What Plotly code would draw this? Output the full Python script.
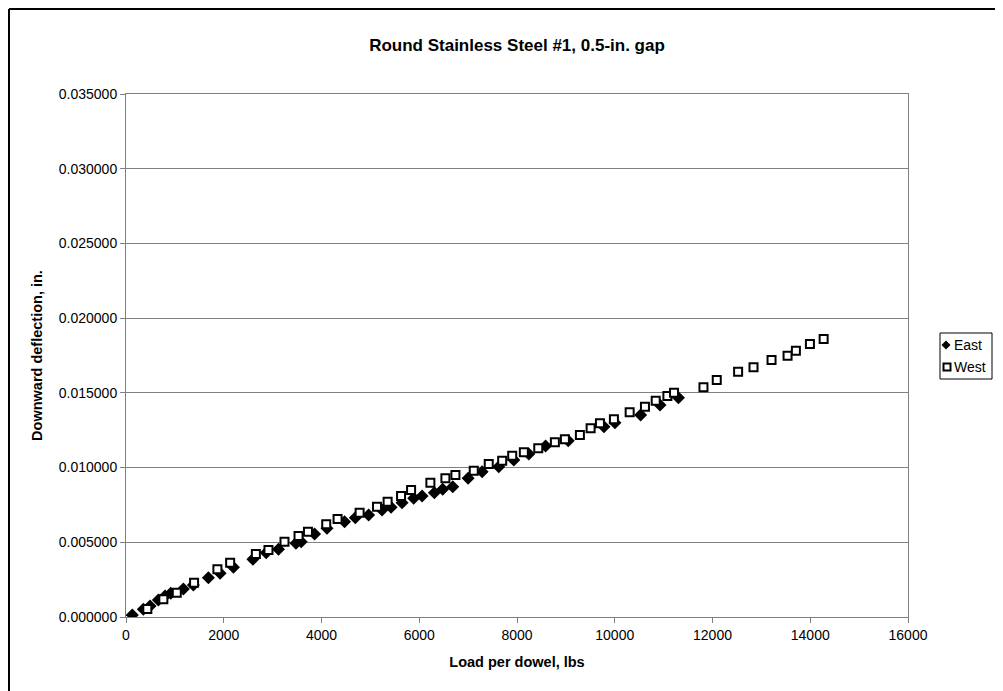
import plotly.graph_objects as go

# East series (diamonds)
east_load = [129, 354, 492, 662, 799, 916, 1174, 1379, 1686, 1926, 2198, 2596, 2868, 3120,
             3477, 3585, 3858, 4112, 4472, 4692, 4964, 5238, 5423, 5648, 5886, 6058, 6310,
             6480, 6685, 7000, 7287, 7627, 7935, 8242, 8584, 9049, 9779, 10004, 10530,
             10926, 11303]
east_defl = [0.00013, 0.00052, 0.00074, 0.00114, 0.00141, 0.00159, 0.00187, 0.00214, 0.00263,
             0.00292, 0.00333, 0.00386, 0.00430, 0.00453, 0.00493, 0.00504, 0.00555, 0.00594,
             0.00637, 0.00664, 0.00683, 0.00716, 0.00734, 0.00765, 0.00794, 0.00810, 0.00832,
             0.00855, 0.00872, 0.00928, 0.00972, 0.01006, 0.01051, 0.01091, 0.01144, 0.01180,
             0.01273, 0.01300, 0.01352, 0.01419, 0.01468]

# West series (open squares)
west_load = [436, 764, 1039, 1393, 1870, 2131, 2657, 2915, 3243, 3530, 3723, 4097, 4329, 4780,
             5136, 5353, 5628, 5833, 6228, 6535, 6740, 7115, 7422, 7697, 7902, 8140, 8435,
             8775, 8980, 9287, 9506, 9697, 9983, 10305, 10618, 10838, 11077, 11213, 11815,
             12087, 12524, 12839, 13208, 13536, 13706, 13993, 14274]
west_defl = [0.00054, 0.00118, 0.00162, 0.00230, 0.00319, 0.00363, 0.00422, 0.00448, 0.00504,
             0.00542, 0.00571, 0.00620, 0.00656, 0.00698, 0.00738, 0.00772, 0.00810, 0.00850,
             0.00899, 0.00928, 0.00950, 0.00979, 0.01024, 0.01046, 0.01079, 0.01102, 0.01129,
             0.01169, 0.01189, 0.01218, 0.01263, 0.01296, 0.01323, 0.01370, 0.01407, 0.01447,
             0.01479, 0.01501, 0.01537, 0.01586, 0.01642, 0.01671, 0.01720, 0.01749, 0.01782,
             0.01827, 0.01860]

series_names = ["East", "West"]
x_ticks = [0, 2000, 4000, 6000, 8000, 10000, 12000, 14000, 16000]
y_ticks = [0.0, 0.005, 0.010, 0.015, 0.020, 0.025, 0.030, 0.035]

W, H = 995, 683
L, R, T, B = 118, 95, 86, 74
PW, PH = W - L - R, H - T - B
OFF = 8  # page offset of the figure


def px(page_x):
    return (page_x - OFF - L) / PW


def py(page_y):
    return 1 - (page_y - OFF - T) / PH


fig = go.Figure()
fig.add_trace(go.Scatter(
    x=east_load, y=east_defl, mode="markers", name=series_names[0], showlegend=False,
    marker=dict(symbol="diamond", size=10, color="black", line=dict(width=0)),
))
fig.add_trace(go.Scatter(
    x=west_load, y=west_defl, mode="markers", name=series_names[1], showlegend=False,
    marker=dict(symbol="square", size=8, color="white", line=dict(width=2, color="black")),
))

font = "Arial, Liberation Sans, sans-serif"
fig.update_layout(
    width=W, height=H,
    paper_bgcolor="white", plot_bgcolor="white",
    margin=dict(l=L, r=R, t=T, b=B, autoexpand=False),
    font=dict(family=font, size=14, color="black"),
    title=dict(text="<b>Round Stainless Steel #1, 0.5-in. gap</b>",
               x=(L + PW / 2) / W, xanchor="center",
               y=1 - 37 / H, yanchor="middle",
               font=dict(family=font, size=17, color="black")),
    showlegend=False,
)
fig.update_xaxes(
    range=[0, 16000], tickvals=x_ticks, ticktext=[str(v) for v in x_ticks],
    showgrid=False, zeroline=False,
    showline=True, linecolor="#808080", linewidth=1, mirror=True,
    ticks="outside", ticklen=5, tickcolor="#808080",
    tickfont=dict(family=font, size=14, color="black"),
    title=dict(text="<b>Load per dowel, lbs</b>", standoff=15,
               font=dict(family=font, size=14.5, color="black")),
)
fig.update_yaxes(
    range=[0, 0.035], tickvals=y_ticks, tickformat=".6f",
    showgrid=True, gridcolor="#808080", gridwidth=1, zeroline=False,
    showline=True, linecolor="#808080", linewidth=1, mirror=True,
    ticks="outside", ticklen=5, tickcolor="#808080",
    tickfont=dict(family=font, size=14, color="black"),
    title=dict(text="<b>Downward deflection, in.</b>", standoff=12,
               font=dict(family=font, size=14.5, color="black")),
)

# outer chart border (top and left edges visible in reference)
top_y = 1 + (T - 1) / PH
left_x = -(L - 1) / PW
fig.add_shape(type="line", xref="paper", yref="paper",
              x0=left_x, x1=(W - L) / PW + 0.02, y0=top_y, y1=top_y,
              line=dict(color="black", width=2))
fig.add_shape(type="line", xref="paper", yref="paper",
              x0=left_x, x1=left_x, y0=top_y, y1=-B / PH - 0.02,
              line=dict(color="black", width=2))

# compact legend box (drawn to match the reference's narrow legend)
fig.add_shape(type="rect", xref="paper", yref="paper",
              x0=px(940), x1=px(992), y0=py(333), y1=py(379),
              line=dict(color="black", width=1), fillcolor="white")
# diamond glyph for East
cx, cy, r = 946, 345, 4.5
fig.add_shape(type="path", xref="paper", yref="paper",
              path=(f"M {px(cx)},{py(cy - r)} L {px(cx + r)},{py(cy)} "
                    f"L {px(cx)},{py(cy + r)} L {px(cx - r)},{py(cy)} Z"),
              line=dict(color="black", width=0), fillcolor="black")
# square glyph for West
sx, sy, s = 947, 367, 3.5
fig.add_shape(type="rect", xref="paper", yref="paper",
              x0=px(sx - s), x1=px(sx + s), y0=py(sy + s), y1=py(sy - s),
              line=dict(color="black", width=2), fillcolor="white")
for name, ty in zip(series_names, [345, 367]):
    fig.add_annotation(xref="paper", yref="paper", x=px(952), y=py(ty),
                       text=name, showarrow=False, xanchor="left", yanchor="middle",
                       font=dict(family=font, size=14, color="black"))

fig.write_html("out.html")
